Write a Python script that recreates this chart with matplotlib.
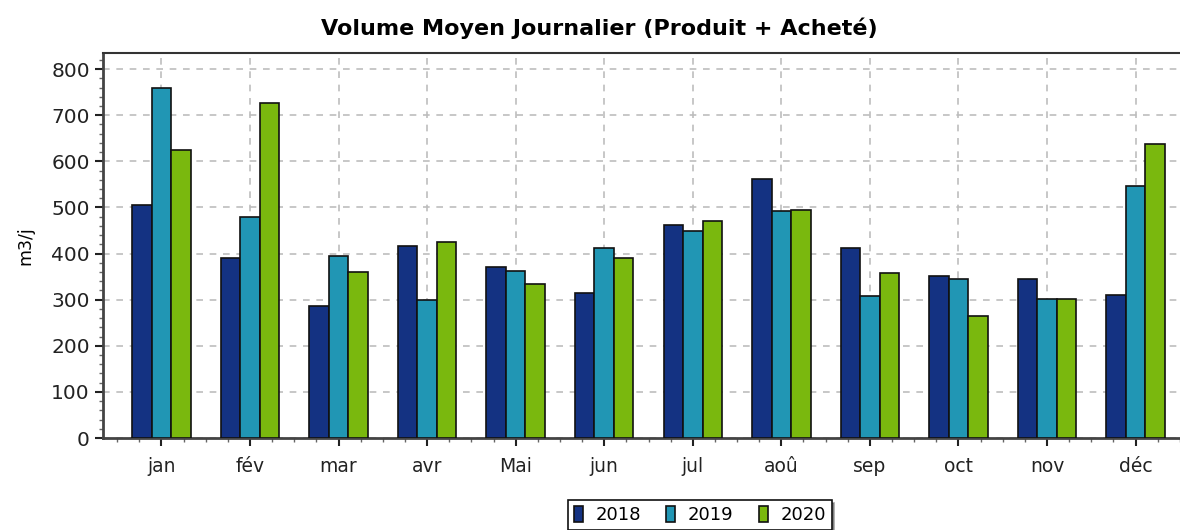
import matplotlib
matplotlib.use("Agg")
import matplotlib.pyplot as plt
import numpy as np
from matplotlib.ticker import MultipleLocator, FixedLocator

months = ["jan", "fév", "mar", "avr", "Mai", "jun", "jul", "aoû", "sep", "oct", "nov", "déc"]
years = ["2018", "2019", "2020"]
v2018 = [505, 390, 286, 416, 370, 315, 463, 562, 412, 352, 345, 311]
v2019 = [759, 479, 395, 300, 362, 412, 450, 492, 309, 345, 302, 546]
v2020 = [624, 726, 360, 425, 333, 391, 470, 495, 358, 264, 302, 637]
colors = ["#143282", "#2196b4", "#7ab80e"]

fig = plt.figure(figsize=(11.8, 5.3), dpi=100)
ax = fig.add_axes([103/1180, 1-438/530, (1194-103)/1180, (438-53)/530])

x = np.arange(len(months))
w = 0.22
for i, (vals, c, lab) in enumerate(zip([v2018, v2019, v2020], colors, years)):
    ax.bar(x + (i-1)*w, vals, width=w, color=c, edgecolor="#111111", linewidth=1.2, label=lab, zorder=3)

ax.set_xlim(-0.66, 11.66)
ax.set_ylim(0, 835)
ax.set_xticks(x)
ax.set_xticklabels(months, fontsize=13.5)
ax.xaxis.set_minor_locator(FixedLocator(np.arange(-0.5, 11.6, 0.25)))
ax.yaxis.set_major_locator(MultipleLocator(100))
ax.yaxis.set_minor_locator(MultipleLocator(20))
ax.tick_params(axis="y", labelsize=14.5, length=6, width=1.5, colors="#222222")
ax.tick_params(axis="x", length=6, width=1.5, colors="#222222", pad=8)
ax.tick_params(which="minor", length=3, width=1, colors="#666666")
ax.grid(True, which="major", linestyle=(0, (4, 4)), color="#bdbdbd", linewidth=1.2, zorder=0)
for s in ["left", "bottom"]:
    ax.spines[s].set_linewidth(2)
    ax.spines[s].set_color("#444444")
ax.spines["top"].set_linewidth(1.5)
ax.spines["top"].set_color("#333333")
ax.spines["right"].set_visible(False)
ax.set_ylabel("m3/j", fontsize=12.5, labelpad=12)
fig.text(0.508, 1-28/530, "Volume Moyen Journalier (Produit + Acheté)", ha="center", va="center",
         fontsize=16, fontweight="bold")
leg = fig.legend(loc="center", bbox_to_anchor=(700/1180, 1-515/530), ncol=3, fontsize=13,
                 frameon=True, fancybox=False, shadow=True, edgecolor="#111111",
                 handlelength=0.5, handleheight=1.0, columnspacing=1.4, handletextpad=0.7,
                 borderpad=0.3)
leg.get_frame().set_linewidth(1.2)
fig.savefig("out.png", dpi=100)
